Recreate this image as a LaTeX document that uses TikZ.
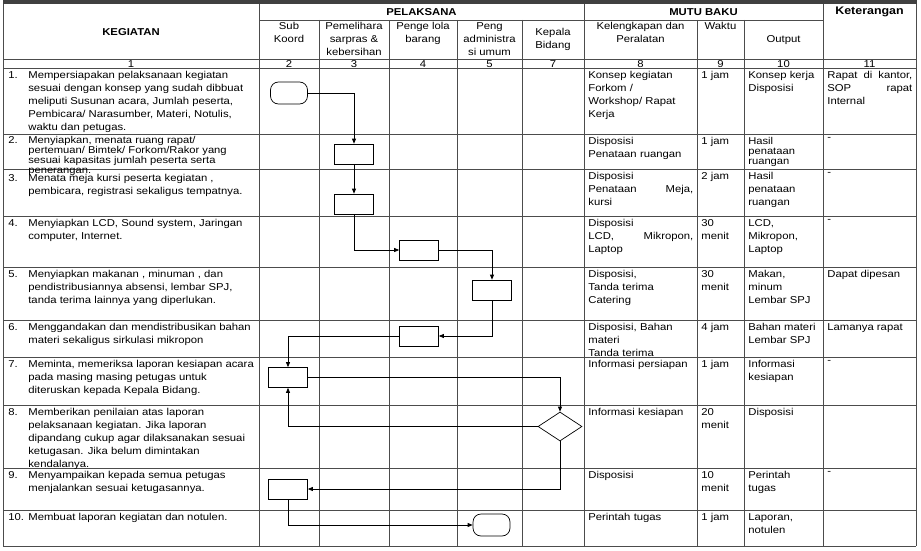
\documentclass[tikz,border=0pt]{standalone}
\usepackage{fontspec}
\setmainfont{Liberation Sans}[FakeStretch=1.13]
\usetikzlibrary{arrows.meta, positioning, shapes.geometric}
\tikzset{
	grid/.style={draw=black!70, line width=0.7pt},
	hdr/.style={font=\bfseries, align=center, inner sep=0pt},
	sub/.style={align=center, inner sep=0pt},
	num/.style={anchor=north west, inner sep=0pt},
	cell/.style={anchor=north west, align=left, inner sep=0pt},
	tight/.style={font=\fontsize{9.9}{10}\selectfont},
	proc/.style={rectangle, draw, minimum width=39pt, minimum height=20pt, inner sep=0pt},
	term/.style={rectangle, draw, rounded corners=8pt, minimum width=37pt, minimum height=22pt, inner sep=0pt},
	dec/.style={diamond, draw, minimum width=44pt, minimum height=29pt, inner sep=0pt},
	arr/.style={-{Triangle[length=5pt, width=4pt]}, line width=0.7pt},
}

\begin{document}
\begin{tikzpicture}[x=1pt, y=-1pt, font=\fontsize{10}{12.9}\selectfont, line width=0.7pt]
	\useasboundingbox (0,0) rectangle (921,551);
	
	% table frame
	\fill[black!75] (3,0) rectangle (917,4);
	\draw[grid] (3,4) -- (3,546) (259,4) -- (259,546) (584,4) -- (584,546) (823,4) -- (823,546) (916,4) -- (916,546);
	\draw[grid] (319,20) -- (319,546) (389,20) -- (389,546) (457,20) -- (457,546) (522,20) -- (522,546) (697,20) -- (697,546) (744,20) -- (744,546);
	\draw[grid] (259,20) -- (823,20);
	\draw[grid] (3,59) -- (916,59) (3,68) -- (916,68) (3,134) -- (916,134) (3,169) -- (916,169) (3,216) -- (916,216) (3,267) -- (916,267);
	\draw[grid] (3,320) -- (916,320) (3,357) -- (916,357) (3,405) -- (916,405) (3,468) -- (916,468) (3,510) -- (916,510) (3,546) -- (916,546);
	
	% header
	\node[hdr] (hkeg) at (131,32) {KEGIATAN};
	\node[hdr] (hpel) at (421.5,12) {PELAKSANA};
	\node[hdr] (hmutu) at (703.5,12) {MUTU BAKU};
	\node[hdr, font=\bfseries\fontsize{11}{13}\selectfont] (hket) at (869.5,12) {Keterangan};
	\node[sub, anchor=north] (hsub) at (289,22) {Sub\\Koord};
	\node[sub, anchor=north] (hpem) at (354,22) {Pemelihara\\sarpras \&\\kebersihan};
	\node[sub, anchor=north] (hpeng) at (423,22) {Penge lola\\barang};
	\node[sub, anchor=north] (hadm) at (489.5,22) {Peng\\administra\\si umum};
	\node[sub] (hkab) at (553,39) {Kepala\\Bidang};
	\node[sub, anchor=north] (hkel) at (640.5,22) {Kelengkapan dan\\Peralatan};
	\node[sub] (hwak) at (720.5,26) {Waktu};
	\node[sub] (hout) at (783.5,40) {Output};
	
	\node[sub] (col1) at (131,64) {1};
	\node[sub] (col2) at (289,64) {2};
	\node[sub] (col3) at (354,64) {3};
	\node[sub] (col4) at (423,64) {4};
	\node[sub] (col5) at (489.5,64) {5};
	\node[sub] (col7) at (553,64) {7};
	\node[sub] (col8) at (640.5,64) {8};
	\node[sub] (col9) at (720.5,64) {9};
	\node[sub] (col10) at (783.5,64) {10};
	\node[sub] (col11) at (869.5,64) {11};
	
	% kegiatan
	\node[num] (n1) at (8,71) {1.};
	\node[cell] (k1) at (28,71) {Mempersiapakan pelaksanaan kegiatan\\sesuai dengan konsep yang sudah dibbuat\\meliputi Susunan acara, Jumlah peserta,\\Pembicara/ Narasumber, Materi, Notulis,\\waktu dan petugas.};
	\node[num] (n2) at (8,136) {2.};
	\node[cell, tight] (k2) at (28,135.5) {Menyiapkan, menata ruang rapat/\\pertemuan/ Bimtek/ Forkom/Rakor yang\\sesuai kapasitas jumlah peserta serta\\penerangan.};
	\node[num] (n3) at (8,174) {3.};
	\node[cell] (k3) at (28,174) {Menata meja kursi peserta kegiatan ,\\pembicara, registrasi sekaligus tempatnya.};
	\node[num] (n4) at (8,219) {4.};
	\node[cell] (k4) at (28,219) {Menyiapkan LCD, Sound system, Jaringan\\computer, Internet.};
	\node[num] (n5) at (8,270) {5.};
	\node[cell] (k5) at (28,270) {Menyiapkan makanan , minuman , dan\\pendistribusiannya absensi, lembar SPJ,\\tanda terima lainnya yang diperlukan.};
	\node[num] (n6) at (8,323) {6.};
	\node[cell] (k6) at (28,323) {Menggandakan dan mendistribusikan bahan\\materi sekaligus sirkulasi mikropon};
	\node[num] (n7) at (8,360) {7.};
	\node[cell] (k7) at (28,360) {Meminta, memeriksa laporan kesiapan acara\\pada masing masing petugas untuk\\diteruskan kepada Kepala Bidang.};
	\node[num] (n8) at (8,408) {8.};
	\node[cell] (k8) at (28,408) {Memberikan penilaian atas laporan\\pelaksanaan kegiatan. Jika laporan\\dipandang cukup agar dilaksanakan sesuai\\ketugasan. Jika belum dimintakan\\kendalanya.};
	\node[num] (n9) at (8,471) {9.};
	\node[cell] (k9) at (28,471) {Menyampaikan kepada semua petugas\\menjalankan sesuai ketugasannya.};
	\node[num] (n10) at (8,513) {10.};
	\node[cell] (k10) at (28,513) {Membuat laporan kegiatan dan notulen.};
	
	% kelengkapan dan peralatan
	\node[cell, text width=105pt] (kel1) at (588,71) {Konsep kegiatan\\Forkom /\\Workshop/ Rapat\\Kerja};
	\node[cell, text width=105pt] (kel2) at (588,137) {Disposisi\\Penataan ruangan};
	\node[cell, text width=105pt] (kel3) at (588,172) {Disposisi\\Penataan\hfill Meja,\\kursi};
	\node[cell, text width=105pt] (kel4) at (588,219) {Disposisi\\LCD,\hfill Mikropon,\\Laptop};
	\node[cell, text width=105pt] (kel5) at (588,270) {Disposisi,\\Tanda terima\\Catering};
	\node[cell, text width=105pt] (kel6) at (588,323) {Disposisi, Bahan\\materi\\Tanda terima};
	\node[cell, text width=105pt] (kel7) at (588,360) {Informasi persiapan};
	\node[cell, text width=105pt] (kel8) at (588,408) {Informasi kesiapan};
	\node[cell, text width=105pt] (kel9) at (588,471) {Disposisi};
	\node[cell, text width=105pt] (kel10) at (588,513) {Perintah tugas};
	
	% waktu
	\node[cell] (wak1) at (701,71) {1 jam};
	\node[cell] (wak2) at (701,137) {1 jam};
	\node[cell] (wak3) at (701,172) {2 jam};
	\node[cell] (wak4) at (701,219) {30\\menit};
	\node[cell] (wak5) at (701,270) {30\\menit};
	\node[cell] (wak6) at (701,323) {4 jam};
	\node[cell] (wak7) at (701,360) {1 jam};
	\node[cell] (wak8) at (701,408) {20\\menit};
	\node[cell] (wak9) at (701,471) {10\\menit};
	\node[cell] (wak10) at (701,513) {1 jam};
	
	% output
	\node[cell] (out1) at (748,71) {Konsep kerja\\Disposisi};
	\node[cell, tight] (out2) at (748,137) {Hasil\\penataan\\ruangan};
	\node[cell] (out3) at (748,172) {Hasil\\penataan\\ruangan};
	\node[cell] (out4) at (748,219) {LCD,\\Mikropon,\\Laptop};
	\node[cell] (out5) at (748,270) {Makan,\\minum\\Lembar SPJ};
	\node[cell] (out6) at (748,323) {Bahan materi\\Lembar SPJ};
	\node[cell] (out7) at (748,360) {Informasi\\kesiapan};
	\node[cell] (out8) at (748,408) {Disposisi};
	\node[cell] (out9) at (748,471) {Perintah\\tugas};
	\node[cell] (out10) at (748,513) {Laporan,\\notulen};
	
	% keterangan
	\node[cell, text width=85pt] (ket1) at (827,71) {Rapat\hfill di\hfill kantor,\\SOP\hfill rapat\\Internal};
	\node[cell] (ket2) at (827,137) {-};
	\node[cell] (ket3) at (827,172) {-};
	\node[cell] (ket4) at (827,219) {-};
	\node[cell] (ket5) at (827,270) {Dapat dipesan};
	\node[cell] (ket6) at (827,323) {Lamanya rapat};
	\node[cell] (ket7) at (827,360) {-};
	\node[cell] (ket9) at (827,471) {-};
	
	% alur
	\node[term] (t1) at (289,93) {};
	\node[proc] (p2) at (354,154) {};
	\node[proc] (p3) at (354,204) {};
	\node[proc] (p4) at (419,250) {};
	\node[proc] (p5) at (492,290) {};
	\node[proc] (p6) at (419,336) {};
	\node[proc] (p7) at (288,377.5) {};
	\node[dec] (d8) at (560,426.5) {};
	\node[proc] (p9) at (288,489) {};
	\node[term] (t10) at (491.5,525) {};
	
	\draw[arr] (t1.east) -| (p2.north);
	\draw[arr] (p2) -- (p3);
	\draw[arr] (p3.south) |- (p4.west);
	\draw[arr] (p4.east) -| (p5.north);
	\draw[arr] (p5.south) |- (p6.east);
	\draw[arr] (p6.west) -| (p7.north);
	\draw[arr] (p7.east) -| (d8.north);
	\draw[arr] (d8.west) -| (p7.south);
	\draw[arr] (d8.south) |- (p9.east);
	\draw[arr] (p9.south) |- (t10.west);
	
\end{tikzpicture}
\end{document}
